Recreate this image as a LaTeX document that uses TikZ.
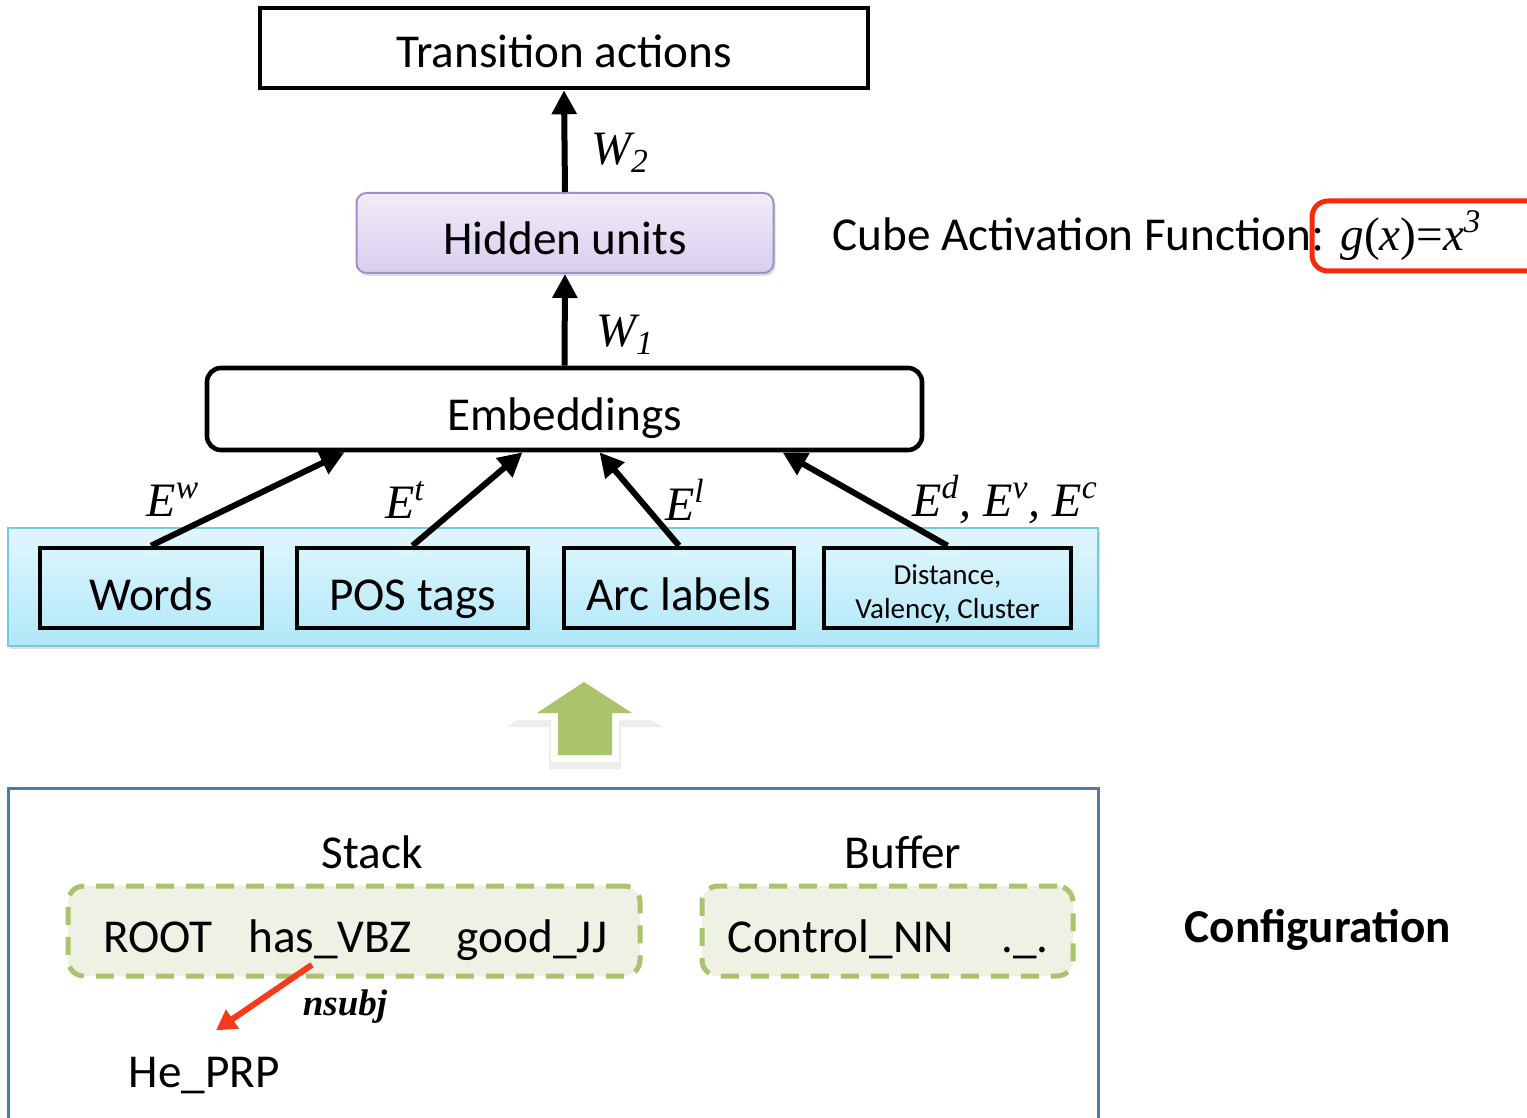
\documentclass[tikz,border=0pt]{standalone}
\usepackage{fontspec}
\setmainfont{Carlito}
\newfontfamily\tms{Liberation Serif}
\usetikzlibrary{arrows.meta,shadows}
\definecolor{grn}{HTML}{A9C46C}
\definecolor{grnfill}{HTML}{EEF1E4}
\definecolor{cfgblue}{HTML}{4F7AAB}
\definecolor{arrred}{HTML}{F83A1C}
\definecolor{hlred}{HTML}{F52A0A}
\definecolor{lavtop}{HTML}{F1ECF9}
\definecolor{lavbot}{HTML}{DACEEF}
\definecolor{lavbd}{HTML}{A18FCB}
\definecolor{bluetop}{HTML}{E2F6FC}
\definecolor{bluebot}{HTML}{B0E8F9}
\definecolor{bluebd}{HTML}{78C8DF}
\begin{document}
\begin{tikzpicture}[x=0.5pt,y=-0.5pt,
  font=\fontsize{23.6}{28}\selectfont,
  blk/.style={draw=black, line width=2.3pt, minimum height=40pt, inner sep=0pt, text height=21pt, text depth=0pt},
  arr/.style={line width=3pt, -{Triangle[length=12pt,width=12pt]}},
  mlab/.style={font=\fontsize{24}{28}\selectfont\tms\itshape, inner sep=0pt},
  txt/.style={inner sep=0pt},
  dashbox/.style={draw=grn, fill=grnfill, dash pattern=on 9pt off 6pt, line width=2.5pt, rounded corners=8pt, minimum height=45pt, inner sep=0pt},
  shd/.style={drop shadow={opacity=0.25, shadow xshift=1pt, shadow yshift=-1.5pt}}
]
\clip (0,0) rectangle (1527,1118);
\fill[white] (0,0) rectangle (1527,1118);

% top part
\node[blk, minimum width=304pt, text height=20pt] (trans) at (564,48) {Transition actions};
\node[draw=lavbd, line width=1pt, rounded corners=5pt, top color=lavtop, bottom color=lavbot,
      minimum width=208.5pt, minimum height=40pt, inner sep=0pt, text height=22pt, text depth=0pt, shd] (hid) at (565,233) {Hidden units};
\node[blk, rounded corners=7pt, minimum width=357.5pt, minimum height=41pt] (emb) at (564.5,409) {Embeddings};

\draw[arr] (hid.north) -- (trans.south);
\draw[arr] (emb.north) -- (hid.south);
\node[mlab] (w2) at (620,153) {W\textsubscript{2}};
\node[mlab] (w1) at (625,335) {W\textsubscript{1}};

% cube activation
\node[txt, anchor=base west] (cube) at (832,251) {Cube Activation Function{\tms: \itshape g\upshape(\itshape x\upshape)=\itshape x\textsuperscript{3}}};
\draw[hlred, line width=2.5pt, rounded corners=8pt] (1312,201) rectangle (1550,271);

% feature band
\node[draw=bluebd, line width=1pt, top color=bluetop, bottom color=bluebot,
      minimum width=545pt, minimum height=59pt, inner sep=0pt, shd] (band) at (553,587) {};
\node[blk, minimum width=111pt, text height=22pt] (words) at (151,588) {Words};
\node[blk, minimum width=115.5pt, text height=22pt] (pos) at (412.5,588) {POS tags};
\node[blk, minimum width=115pt, text height=22pt] (arc) at (679,588) {Arc labels};
\node[draw=black, line width=2.3pt, minimum height=40pt, inner sep=0pt, minimum width=123.5pt,
      font=\fontsize{14.5}{17}\selectfont] (dist) at (947.5,588)
      {\raisebox{-7pt}[0pt][0pt]{\begin{tabular}{@{}c@{}}Distance,\\Valency, Cluster\end{tabular}}};

\draw[arr] (words.north) -- ([xshift=-110pt]emb.south);
\draw[arr] (pos.north) -- ([xshift=-21pt]emb.south);
\draw[arr] (arc.north) -- ([xshift=17.5pt]emb.south);
\draw[arr] (dist.north) -- ([xshift=109pt]emb.south);

\node[mlab] (ew) at (173,500) {E\textsuperscript{w}};
\node[mlab] (et) at (405,500) {E\textsuperscript{t}};
\node[mlab] (el) at (685,500) {E\textsuperscript{l}};
\node[mlab] (edvc) at (1005,500) {E\textsuperscript{d}, E\textsuperscript{v}, E\textsuperscript{c}};

% green block arrow
\path[draw=black, draw opacity=0.07, fill=black, fill opacity=0.07, line width=9pt, line join=miter, miter limit=10]
  (584,687) -- (632,718) -- (612,718) -- (612,760) -- (558,760) -- (558,718) -- (537,718) -- cycle;
\path[draw=white, fill=white, line width=7pt, line join=miter, miter limit=10]
  (584,682) -- (632,713) -- (612,713) -- (612,755) -- (558,755) -- (558,713) -- (537,713) -- cycle;
\fill[grn] (584,682) -- (632,713) -- (612,713) -- (612,755) -- (558,755) -- (558,713) -- (537,713) -- cycle;

% configuration
\node[draw=cfgblue, line width=1.5pt, minimum width=545pt, minimum height=171pt, inner sep=0pt] (cfg) at (553,959) {};
\node[txt] (stacklab) at (372,852) {Stack};
\node[txt] (buflab) at (903,852) {Buffer};
\node[dashbox, minimum width=286pt] (stack) at (354,931) {};
\node[dashbox, minimum width=185.5pt] (buf) at (887.5,931) {};
\node[txt, anchor=base] (root) at (158,952) {ROOT};
\node[txt, anchor=base] (has) at (330,952) {has\_VBZ};
\node[txt, anchor=base] (good) at (532,952) {good\_JJ};
\node[txt, anchor=base] (ctrl) at (841,952) {Control\_NN};
\node[txt, anchor=base] (dot) at (1025,952) {.\_.};
\node[txt, anchor=base] (he) at (204,1087) {He\_PRP};
\node[txt, font=\fontsize{18.5}{22}\selectfont\tms\bfseries\itshape] (nsubj) at (345,1007) {nsubj};
\draw[arrred, line width=3pt, -{Triangle[length=10pt,width=11pt]}]
  ([xshift=-9pt,yshift=-3pt]has.south) -- ([xshift=6pt,yshift=13pt]he.north);
\node[txt, font=\fontsize{23.6}{28}\selectfont\bfseries] (config) at (1318,930) {Configuration};
\end{tikzpicture}
\end{document}
